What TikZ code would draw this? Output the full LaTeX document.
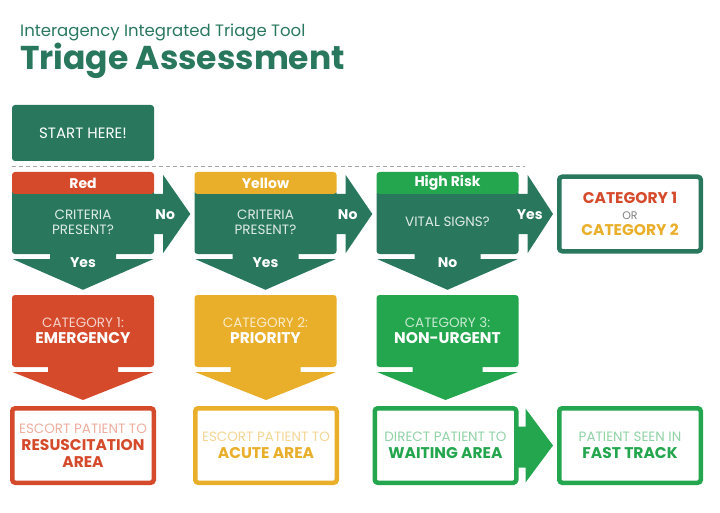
\documentclass[tikz,border=0pt]{standalone}
\usepackage{fontspec}
\setmainfont{Poppins}
\usetikzlibrary{calc}

\definecolor{dkgreen}{HTML}{29785D}
\definecolor{tred}{HTML}{D64A2C}
\definecolor{tyellow}{HTML}{E9AE2A}
\definecolor{tgreen}{HTML}{23A64D}
\newcommand{\heavy}{\fontsize{15.5}{17}\selectfont\bfseries}

\begin{document}
\begin{tikzpicture}[x=1pt,y=-1pt,
  box/.style={rectangle,rounded corners=3pt,minimum width=142pt,align=center,inner sep=0pt},
  tag/.style={box,minimum height=22pt,text=white,font=\fontsize{14}{15}\selectfont\bfseries},
  query/.style={box,fill=dkgreen,minimum height=64pt,text=white!85!dkgreen,font=\fontsize{13.5}{15}\selectfont},
  cat/.style={box,minimum height=72pt,text=white,font=\fontsize{13.5}{16}\selectfont},
  dest/.style={box,draw,line width=4.5pt,fill=white,minimum width=141.5pt,minimum height=74.5pt,font=\fontsize{13.5}{17}\selectfont},
  yesno/.style={text=white,inner sep=0pt,font=\fontsize{14}{15}\selectfont\bfseries}]
\useasboundingbox (0,0) rectangle (720,513);

% title
\node[anchor=base west,inner sep=0pt,text=dkgreen,font=\fontsize{16.5}{18}\selectfont] (tool) at (20,37) {Interagency Integrated Triage Tool};
\node[anchor=base west,inner sep=0pt,text=dkgreen,font=\fontsize{33}{36}\selectfont\bfseries] (title) at (20,70) {Triage Assessment};

% start
\node[box,fill=dkgreen,minimum height=56pt,text=white,font=\fontsize{15}{16}\selectfont] (start) at (83,133) {START HERE!};
\draw[gray!70,line width=1pt,dash pattern=on 4pt off 3pt] ($(start.south west)+(0,5)$) -- ++(513,0);

% questions
\node[query] (q1) at (83,222) {CRITERIA\\PRESENT?};
\node[query] (q2) at (265.5,222) {CRITERIA\\PRESENT?};
\node[query] (q3) at (447.5,222) {VITAL SIGNS?};
\node[tag,fill=tred] (h1) at (83,183) {Red};
\node[tag,fill=tyellow] (h2) at (265.5,183) {Yellow};
\node[tag,fill=tgreen] (h3) at (447.5,183) {High Risk};
\node[dest,draw=dkgreen,font=\fontsize{11}{16}\selectfont] (either) at (630,214) {{\heavy\color{tred}CATEGORY 1}\\{\color{gray}OR}\\{\heavy\color{tyellow}CATEGORY 2}};

% categories
\node[cat,fill=tred] (c1) at (83,331) {{\color{white!75!tred}CATEGORY 1:}\\{\heavy EMERGENCY}};
\node[cat,fill=tyellow] (c2) at (265.5,331) {{\color{white!75!tyellow}CATEGORY 2:}\\{\heavy PRIORITY}};
\node[cat,fill=tgreen] (c3) at (447.5,331) {{\color{white!75!tgreen}CATEGORY 3:}\\{\heavy NON-URGENT}};

% destinations
\node[dest,draw=tred] (d1) at (83,445.5) {{\color{tred!45}ESCORT PATIENT TO}\\{\heavy\color{tred}RESUSCITATION}\\{\heavy\color{tred}AREA}};
\node[dest,draw=tyellow] (d2) at (266,445.5) {{\color{tyellow!50}ESCORT PATIENT TO}\\{\heavy\color{tyellow}ACUTE AREA}};
\node[dest,draw=tgreen] (d3) at (445.5,445.5) {{\color{tgreen!50}DIRECT PATIENT TO}\\{\heavy\color{tgreen}WAITING AREA}};
\node[dest,draw=tgreen] (d4) at (630,445.5) {{\color{tgreen!50}PATIENT SEEN IN}\\{\heavy\color{tgreen}FAST TRACK}};

% no / yes arrows to the right
\foreach \a/\b/\t in {q1/q2/No,q2/q3/No,q3/either/Yes} {
  \fill[dkgreen] ($(\a.east)+(-1,-28)$) -- ++(10,0) -- ++(0,-19) -- ($(\b.west |- \a.east)+(-4,-8)$)
    -- ($(\a.east)+(9,31)$) -- ++(0,-19) -- ++(-10,0) -- cycle;
  \node[yesno] at ($(\a.east)+(11,-7)$) {\t};
}

% arrows down
\foreach \a/\b/\t in {q1/c1/Yes,q2/c2/Yes,q3/c3/No} {
  \fill[dkgreen] ($(\a.south)+(-33,-2)$) -- ($(\a.south)+(-33,5)$) -- ($(\a.south)+(-70,5)$) -- ($(\b.north)+(0,-5)$)
    -- ($(\a.south)+(70,5)$) -- ($(\a.south)+(33,5)$) -- ($(\a.south)+(33,-2)$) -- cycle;
  \node[yesno] at ($(\a.south)+(0,8)$) {\t};
}
\foreach \a/\b/\c in {c1/d1/tred,c2/d2/tyellow,c3/d3/tgreen} {
  \fill[\c] ($(\a.south)+(-35,-2)$) -- ($(\a.south)+(-35,5)$) -- ($(\a.south)+(-70,5)$) -- ($(\b.north)+(0,-6)$)
    -- ($(\a.south)+(70,5)$) -- ($(\a.south)+(35,5)$) -- ($(\a.south)+(35,-2)$) -- cycle;
}

% waiting area to fast track
\fill[tgreen] ($(d3.east)+(-2,-19)$) -- ++(9,0) -- ++(0,-18) -- ($(d4.west)+(-4,0)$)
  -- ($(d3.east)+(7,37)$) -- ++(0,-15) -- ++(-9,0) -- cycle;
\end{tikzpicture}
\end{document}
